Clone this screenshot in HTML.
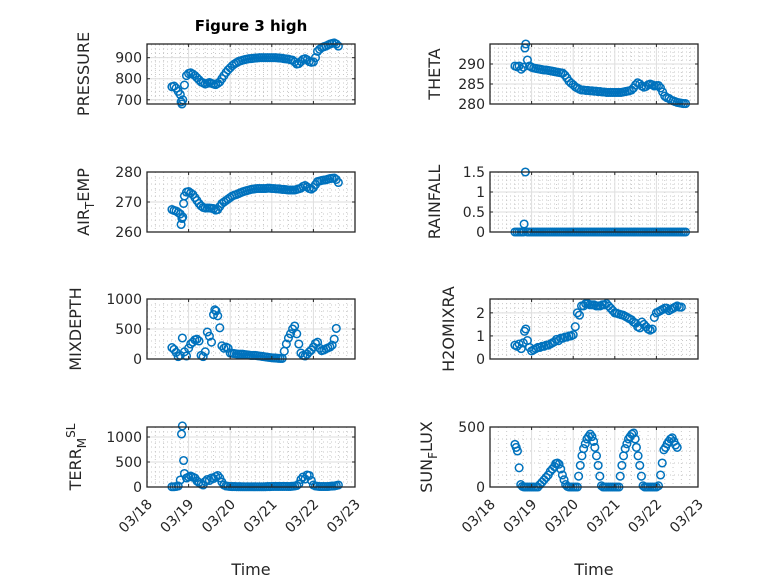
<!DOCTYPE html>
<html><head><meta charset="utf-8"><style>
body{margin:0;background:#fff}
svg{display:block;font-family:"DejaVu Sans","Liberation Sans",sans-serif}
</style></head><body>
<svg id="fig" width="778" height="583" viewBox="0 0 778 583" xmlns="http://www.w3.org/2000/svg">
<rect width="778" height="583" fill="#fff"/>
<text x="251" y="31" text-anchor="middle" font-size="15" font-weight="bold" fill="#000">Figure 3 high</text>
</svg>
<script>
const xTickLabels = ["03/18","03/19","03/20","03/21","03/22","03/23"];
const xDays = [18,19,20,21,22,23];

const pressT = [18.6,18.65,18.7,18.75,18.8,18.82,18.84,18.86,18.9,18.95,19.0,19.05,19.1,19.15,19.2,19.25,19.3,19.35,19.4,19.45,19.5,19.55,19.6,19.65,19.7,19.75,19.8,19.85,19.9,19.95,20.0,20.05,20.1,20.15,20.2,20.25,20.3,20.35,20.4,20.45,20.5,20.55,20.6,20.65,20.7,20.75,20.8,20.85,20.9,20.95,21.0,21.05,21.1,21.15,21.2,21.25,21.3,21.35,21.4,21.45,21.5,21.55,21.6,21.65,21.7,21.75,21.8,21.85,21.9,21.95,22.0,22.05,22.1,22.15,22.2,22.25,22.3,22.35,22.4,22.45,22.5,22.55,22.6];
const pressV = [762,765,755,740,725,690,680,700,770,815,825,828,822,815,805,795,785,780,775,778,782,778,775,772,778,785,800,815,830,842,852,862,870,876,882,885,888,891,893,895,896,897,898,899,900,900,900,900,900,900,900,900,900,899,898,897,895,894,893,890,888,880,870,872,882,892,895,890,882,878,880,900,930,940,948,952,955,960,965,968,970,965,955];

const thetaT = [18.6,18.65,18.7,18.75,18.8,18.84,18.86,18.9,18.95,19.0,19.05,19.1,19.15,19.2,19.25,19.3,19.35,19.4,19.45,19.5,19.55,19.6,19.65,19.7,19.75,19.8,19.85,19.9,19.95,20.0,20.05,20.1,20.15,20.2,20.25,20.3,20.35,20.4,20.45,20.5,20.55,20.6,20.65,20.7,20.75,20.8,20.85,20.9,20.95,21.0,21.05,21.1,21.15,21.2,21.25,21.3,21.35,21.4,21.45,21.5,21.55,21.6,21.65,21.7,21.75,21.8,21.85,21.9,21.95,22.0,22.05,22.1,22.15,22.2,22.25,22.3,22.35,22.4,22.45,22.5,22.55,22.6,22.65,22.7];
const thetaV = [289.5,289.3,289.5,288.7,289.2,294,295,291,289.5,289.2,289,288.9,288.8,288.7,288.6,288.5,288.5,288.4,288.3,288.2,288.1,288,287.9,287.8,287.7,287.2,286.5,285.7,285.2,284.8,284.3,284,283.7,283.5,283.5,283.4,283.4,283.3,283.3,283.2,283.2,283.1,283.1,283,283,282.9,282.9,282.9,282.9,282.9,282.9,282.9,282.9,283,283.1,283.2,283.3,283.5,284,284.8,285.3,285,284.5,284.2,284.4,284.8,285,284.8,284.5,284.6,284.6,284,283,282,281.6,281.4,281,280.8,280.6,280.4,280.3,280.2,280.1,280.1];

const airT = [18.6,18.65,18.7,18.75,18.8,18.82,18.84,18.86,18.88,18.9,18.95,19.0,19.05,19.1,19.15,19.2,19.25,19.3,19.35,19.4,19.45,19.5,19.55,19.6,19.65,19.7,19.75,19.8,19.85,19.9,19.95,20.0,20.05,20.1,20.15,20.2,20.25,20.3,20.35,20.4,20.45,20.5,20.55,20.6,20.65,20.7,20.75,20.8,20.85,20.9,20.95,21.0,21.05,21.1,21.15,21.2,21.25,21.3,21.35,21.4,21.45,21.5,21.55,21.6,21.65,21.7,21.75,21.8,21.85,21.9,21.95,22.0,22.05,22.1,22.15,22.2,22.25,22.3,22.35,22.4,22.45,22.5,22.55,22.6];
const airV = [267.5,267.2,267,266.5,266,262.5,264.5,265,269.5,272,273.3,273.5,273,272.5,271.5,270.5,269.5,268.7,268.2,268,268,268,267.9,267.8,267.3,267.5,268.5,269.5,270,270.5,271,271.5,272,272.3,272.5,272.8,273.1,273.4,273.6,273.8,274,274.2,274.3,274.4,274.5,274.5,274.5,274.5,274.5,274.6,274.6,274.5,274.5,274.4,274.4,274.3,274.2,274.2,274.1,274,274,274,274,274.2,274.4,274.6,275.2,275.5,275,274.5,274.3,274.8,275.8,276.8,277,277.2,277.3,277.4,277.6,277.8,277.9,278,277.5,276.5];

const rainT = [18.6,18.65,18.7,18.75,18.8,18.82,18.85,18.9,18.95,19.0,19.05,19.1,19.15,19.2,19.25,19.3,19.35,19.4,19.45,19.5,19.55,19.6,19.65,19.7,19.75,19.8,19.85,19.9,19.95,20.0,20.05,20.1,20.15,20.2,20.25,20.3,20.35,20.4,20.45,20.5,20.55,20.6,20.65,20.7,20.75,20.8,20.85,20.9,20.95,21.0,21.05,21.1,21.15,21.2,21.25,21.3,21.35,21.4,21.45,21.5,21.55,21.6,21.65,21.7,21.75,21.8,21.85,21.9,21.95,22.0,22.05,22.1,22.15,22.2,22.25,22.3,22.35,22.4,22.45,22.5,22.55,22.6,22.65,22.7];
const rainV = [0,0,0,0,0,0.2,1.5,0,0,0,0,0,0,0,0,0,0,0,0,0,0,0,0,0,0,0,0,0,0,0,0,0,0,0,0,0,0,0,0,0,0,0,0,0,0,0,0,0,0,0,0,0,0,0,0,0,0,0,0,0,0,0,0,0,0,0,0,0,0,0,0,0,0,0,0,0,0,0,0,0,0,0,0,0];

const mixT = [18.6,18.65,18.7,18.75,18.8,18.85,18.9,18.95,19.0,19.05,19.1,19.15,19.2,19.25,19.3,19.35,19.4,19.45,19.5,19.55,19.6,19.63,19.66,19.7,19.75,19.8,19.85,19.9,19.95,20.0,20.05,20.1,20.15,20.2,20.25,20.3,20.35,20.4,20.45,20.5,20.55,20.6,20.65,20.7,20.75,20.8,20.85,20.9,20.95,21.0,21.05,21.1,21.15,21.2,21.25,21.3,21.35,21.4,21.45,21.5,21.55,21.6,21.65,21.7,21.75,21.8,21.85,21.9,21.95,22.0,22.05,22.1,22.15,22.2,22.25,22.3,22.35,22.4,22.45,22.5,22.55];
const mixV = [190,160,110,40,60,350,120,50,180,250,280,320,330,300,60,40,120,450,380,280,740,820,800,720,520,220,180,200,180,100,95,90,85,80,80,80,75,70,65,60,60,60,55,50,45,40,35,30,25,20,18,15,12,10,10,130,250,350,420,500,550,420,250,100,60,50,80,120,150,200,260,280,180,140,150,170,185,200,230,330,510];

const h2oT = [18.6,18.65,18.7,18.75,18.8,18.83,18.86,18.9,18.95,19.0,19.05,19.1,19.15,19.2,19.25,19.3,19.35,19.4,19.45,19.5,19.55,19.6,19.65,19.7,19.75,19.8,19.85,19.9,19.95,20.0,20.05,20.1,20.15,20.2,20.25,20.3,20.35,20.4,20.45,20.5,20.55,20.6,20.65,20.7,20.75,20.8,20.85,20.9,20.95,21.0,21.05,21.1,21.15,21.2,21.25,21.3,21.35,21.4,21.45,21.5,21.55,21.6,21.65,21.7,21.75,21.8,21.85,21.9,21.95,22.0,22.05,22.1,22.15,22.2,22.25,22.3,22.35,22.4,22.45,22.5,22.55,22.6];
const h2oV = [0.6,0.55,0.65,0.45,0.7,1.2,1.3,0.8,0.5,0.35,0.4,0.45,0.5,0.5,0.55,0.55,0.6,0.6,0.65,0.7,0.75,0.85,0.8,0.9,0.9,0.95,0.95,1.0,1.0,1.05,1.4,2.0,1.9,2.3,2.3,2.4,2.4,2.35,2.35,2.35,2.3,2.3,2.3,2.35,2.35,2.4,2.3,2.2,2.1,2.0,1.98,1.95,1.92,1.9,1.85,1.8,1.75,1.7,1.6,1.55,1.4,1.35,1.6,1.5,1.4,1.3,1.25,1.3,1.8,2.0,2.05,2.1,2.15,2.2,2.2,2.1,2.15,2.2,2.25,2.3,2.25,2.25];

const terrT = [18.6,18.65,18.7,18.75,18.8,18.83,18.85,18.88,18.9,18.95,19.0,19.05,19.1,19.15,19.2,19.25,19.3,19.35,19.4,19.45,19.5,19.55,19.6,19.65,19.7,19.75,19.8,19.85,19.9,19.95,20.0,20.05,20.1,20.15,20.2,20.25,20.3,20.35,20.4,20.45,20.5,20.55,20.6,20.65,20.7,20.75,20.8,20.85,20.9,20.95,21.0,21.05,21.1,21.15,21.2,21.25,21.3,21.35,21.4,21.45,21.5,21.55,21.6,21.65,21.7,21.75,21.8,21.85,21.9,21.95,22.0,22.05,22.1,22.15,22.2,22.25,22.3,22.35,22.4,22.45,22.5,22.55,22.6];
const terrV = [5,5,10,20,140,1060,1221,530,270,180,200,220,200,180,120,90,60,40,110,150,130,180,170,210,230,180,100,40,20,15,10,9,8,7,6,6,5,5,5,5,5,5,5,5,5,5,5,6,8,9,10,11,12,12,12,12,12,11,10,12,15,20,30,60,150,200,160,240,230,130,40,20,15,10,10,10,10,10,15,18,20,30,40];

const sunT = [18.6,18.63,18.66,18.7,18.74,18.78,18.82,18.86,18.9,18.95,19.0,19.05,19.1,19.15,19.2,19.25,19.3,19.35,19.4,19.45,19.5,19.55,19.58,19.62,19.66,19.7,19.74,19.78,19.82,19.86,19.9,19.95,20.0,20.05,20.1,20.13,20.17,20.21,20.25,20.29,20.33,20.37,20.41,20.45,20.49,20.52,20.56,20.6,20.64,20.68,20.72,20.76,20.8,20.85,20.9,20.95,21.0,21.05,21.1,21.13,21.17,21.21,21.25,21.29,21.33,21.37,21.41,21.45,21.49,21.52,21.56,21.6,21.64,21.68,21.72,21.76,21.8,21.85,21.9,21.95,22.0,22.05,22.1,22.14,22.18,22.22,22.26,22.3,22.34,22.38,22.42,22.46,22.5];
const sunV = [355,330,300,160,20,5,0,0,0,0,0,0,0,0,20,40,60,80,100,130,150,170,195,200,190,150,100,60,20,5,0,0,0,0,0,90,180,260,320,360,400,420,440,420,380,330,260,180,90,10,0,0,0,0,0,0,0,0,0,90,180,260,320,360,400,420,440,450,400,330,260,180,90,10,0,0,0,0,0,0,0,10,100,200,310,330,360,380,400,410,380,350,330];

const panels = [
 {name:'pressure', t:pressT, v:pressV, col:0, top:44, ymin:680, ymax:965, ticks:[700,800,900], tl:['700','800','900'], label:[['PRESSURE','n']], minor:20, lx:58},
 {name:'theta', t:thetaT, v:thetaV, col:1, top:44, ymin:280, ymax:295, ticks:[280,285,290], tl:['280','285','290'], label:[['THETA','n']], minor:1, lx:50},
 {name:'air-temp', t:airT, v:airV, col:0, top:172, ymin:260, ymax:280, ticks:[260,270,280], tl:['260','270','280'], label:[['AIR','n'],['T','sub'],['EMP','n']], minor:2, lx:58},
 {name:'rainfall', t:rainT, v:rainV, col:1, top:172, ymin:0, ymax:1.5, ticks:[0,0.5,1,1.5], tl:['0','0.5','1','1.5'], label:[['RAINFALL','n']], minor:0.1, lx:50},
 {name:'mixdepth', t:mixT, v:mixV, col:0, top:299, ymin:0, ymax:1000, ticks:[0,500,1000], tl:['0','500','1000'], label:[['MIXDEPTH','n']], minor:100, lx:66},
 {name:'h2omixra', t:h2oT, v:h2oV, col:1, top:299, ymin:0, ymax:2.6, ticks:[0,1,2], tl:['0','1','2'], label:[['H2OMIXRA','n']], minor:0.2, lx:36},
 {name:'terr-msl', t:terrT, v:terrV, col:0, top:427, ymin:0, ymax:1200, ticks:[0,500,1000], tl:['0','500','1000'], label:[['TERR','n'],['M','sub'],['SL','sup']], minor:100, lx:66},
 {name:'sun-flux', t:sunT, v:sunV, col:1, top:427, ymin:0, ymax:500, ticks:[0,500], tl:['0','500'], label:[['SUN','n'],['F','sub'],['LUX','n']], minor:100, lx:58},
];

const NS='http://www.w3.org/2000/svg';
const svg=document.getElementById('fig');
function mk(tag,attrs,parent){const e=document.createElementNS(NS,tag);for(const k in attrs)e.setAttribute(k,attrs[k]);(parent||svg).appendChild(e);return e;}
const W=208,H=60,X0=[147,490];
panels.forEach(p=>{
  const L=X0[p.col],T=p.top;
  const g=mk('g',{});
  
  
  const xs=d=>L+(d-18)/5*W;
  const ys=v=>T+H-(v-p.ymin)/(p.ymax-p.ymin)*H;
  for(let d=18;d<23;d+=0.2){const x=xs(d);if(Math.abs(d-Math.round(d))<1e-6)continue;mk('line',{x1:x,x2:x,y1:T,y2:T+H,stroke:'#c8c8c8','stroke-width':1,'stroke-dasharray':'1,3'},g);}
  for(let v=Math.ceil(p.ymin/p.minor)*p.minor;v<p.ymax;v+=p.minor){const y=ys(v);mk('line',{x1:L,x2:L+W,y1:y,y2:y,stroke:'#c8c8c8','stroke-width':1,'stroke-dasharray':'1,3'},g);}
  xDays.forEach(d=>{const x=xs(d);mk('line',{x1:x,x2:x,y1:T,y2:T+H,stroke:'#dedede','stroke-width':1},g);});
  p.ticks.forEach(v=>{const y=ys(v);mk('line',{x1:L,x2:L+W,y1:y,y2:y,stroke:'#dedede','stroke-width':1},g);});
  const dg=mk('g',{},g);
  
  
  p.t.forEach((d,i)=>{const c=mk('circle',{cx:xs(d),cy:ys(p.v[i]),r:3.8,fill:'none',stroke:'#0072bd','stroke-width':1.5},dg);
    
    });
  mk('rect',{x:L,y:T,width:W,height:H,fill:'none',stroke:'#262626','stroke-width':1.3},g);
  xDays.forEach(d=>{const x=xs(d);mk('line',{x1:x,x2:x,y1:T+H,y2:T+H-3,stroke:'#262626'},g);mk('line',{x1:x,x2:x,y1:T,y2:T+3,stroke:'#262626'},g);});
  p.ticks.forEach((v,i)=>{const y=ys(v);mk('line',{x1:L,x2:L+3,y1:y,y2:y,stroke:'#262626'},g);mk('line',{x1:L+W,x2:L+W-3,y1:y,y2:y,stroke:'#262626'},g);
    const t=mk('text',{x:L-5,y:y+5,'text-anchor':'end','font-size':14,fill:'#262626'},g);t.textContent=p.tl[i];
    
    });
  const yl=mk('text',{transform:`translate(${L-p.lx},${T+H/2}) rotate(-90)`,'text-anchor':'middle','font-size':16,fill:'#262626'},g);
  
  
  p.label.forEach(([s,k])=>{const ts=mk('tspan',{},yl);ts.textContent=s;
    if(k==='sub'){ts.setAttribute('font-size',12);ts.setAttribute('dy',5);}
    else if(k==='sup'){ts.setAttribute('font-size',12);ts.setAttribute('dy',-11);}
    else if(yl.childNodes.length>1){ts.setAttribute('dy',-5);}
  });
  if(p.top===427){
    xDays.forEach((d,i)=>{const x=xs(d);const t=mk('text',{transform:`translate(${x+6},${T+H+18}) rotate(-45)`,'text-anchor':'end','font-size':14,fill:'#262626'},g);t.textContent=xTickLabels[i];
      
      });
    const xt=mk('text',{x:L+W/2,y:575,'text-anchor':'middle','font-size':16,fill:'#262626'},g);xt.textContent='Time';
    
    
  }
});
</script>
</body></html>
